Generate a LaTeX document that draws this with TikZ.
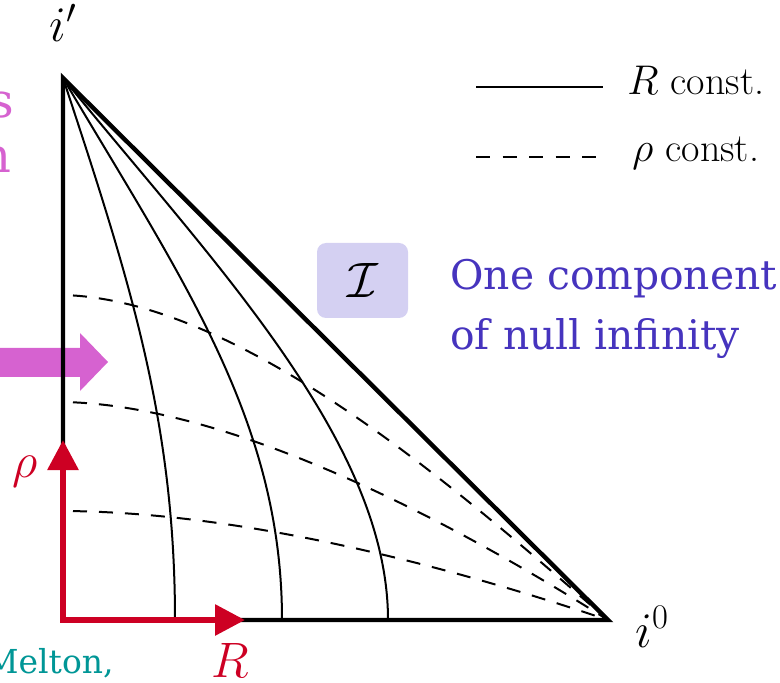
\documentclass[tikz,border=0pt]{standalone}
\usepackage{amsmath,amssymb}
\usepackage{fontspec}
\newfontfamily\slidefont{DejaVu Serif}
\usetikzlibrary{arrows.meta, positioning}
\definecolor{axisred}{RGB}{205,0,35}
\definecolor{pushpink}{RGB}{214,98,208}
\definecolor{scriblue}{RGB}{70,52,190}
\definecolor{scrifill}{RGB}{212,208,242}
\definecolor{citeteal}{RGB}{0,150,150}

\begin{document}
\begin{tikzpicture}[
        x=0.5pt, y=-0.5pt,
        edge/.style={line width=2.2pt, line join=miter},
        rline/.style={line width=1pt},
        rholine/.style={line width=1pt, dash pattern=on 7pt off 6pt, dash phase=8pt},
        axis/.style={line width=3pt, draw=axisred, line join=miter, {Triangle[length=15pt,width=15pt]}-{Triangle[length=15pt,width=15pt]}},
        push/.style={fill=pushpink},
        lbl/.style={inner sep=0pt, font=\fontsize{23}{28}\selectfont},
        redlbl/.style={lbl, text=axisred},
        legend/.style={inner sep=0pt, anchor=base west, font=\fontsize{20}{24}\selectfont},
        scribox/.style={rectangle, rounded corners=4.5pt, fill=scrifill, minimum width=45.5pt, minimum height=37.5pt, font=\fontsize{25}{30}\selectfont},
        scritext/.style={inner sep=0pt, align=left, text=scriblue, font=\slidefont\fontsize{20.4}{30}\selectfont},
        pushtext/.style={inner sep=0pt, anchor=base east, text=pushpink, font=\slidefont\fontsize{24}{28}\selectfont},
        cite/.style={inner sep=0pt, anchor=base east, text=citeteal, font=\slidefont\fontsize{16.5}{20}\selectfont}
    ]
    \useasboundingbox (0,0) rectangle (780,683);

    \coordinate (ip) at (63,78);
    \coordinate (orig) at (63,620);
    \coordinate (izero) at (608,620);
    \coordinate (r1) at (175,620);
    \coordinate (r2) at (282,620);
    \coordinate (r3) at (388,620);
    \coordinate (p1) at (63,295);
    \coordinate (p2) at (63,402);
    \coordinate (p3) at (63,511);
    \coordinate (rhotip) at (63,440);
    \coordinate (Rtip) at (245,620);

    \fill[push] (-20,348) -- (80,348) -- (80,333) -- (108,362) -- (80,391) -- (80,377) -- (-20,377) -- cycle;

    \draw[rline] (ip) .. controls (129,278) and (175,420) .. (r1);
    \draw[rline] (ip) .. controls (181,278) and (282,420) .. (r2);
    \draw[rline] (ip) .. controls (209,258) and (388,440) .. (r3);
    \draw[rholine] (p1) .. controls (250,300) and (480,510) .. (izero);
    \draw[rholine] (p2) .. controls (230,405) and (450,520) .. (izero);
    \draw[rholine] (p3) .. controls (250,512) and (460,570) .. (izero);

    \draw[edge] (orig) -- (izero) -- (ip) -- cycle;
    \draw[axis] (rhotip) -- (orig) -- (Rtip);

    \node[lbl, above=18pt of ip] (iplbl) {$i'$};
    \node[lbl, anchor=base west] (izerolbl) at (635,647) {$i^0$};
    \node[redlbl] (rholbl) at (25,472) {$\rho$};
    \node[redlbl, anchor=base] (Rlbl) at (230,677) {$R$};

    \node[scribox] (scri) at (362.5,280.5) {$\mathcal{I}$};
    \node[scritext, anchor=north west] (scrinote) at (450,259) {One component\\of null infinity};

    \coordinate (solidA) at (476,87);
    \coordinate (solidB) at (603,87);
    \draw[rline] (solidA) -- (solidB);
    \node[legend] (solidkey) at (627,95) {$R$ const.};
    \coordinate (dashA) at (476,157);
    \coordinate (dashB) at (597,157);
    \draw[rline, dash pattern=on 7pt off 6.25pt] (dashA) -- (dashB);
    \node[legend] (dashkey) at (632,162) {$\rho$ const.};

    \node[pushtext] (pushs) at (15,118) {s};
    \node[pushtext] (pushn) at (12,173) {n};
    \node[cite] (melton) at (114,673) {Melton,};
\end{tikzpicture}
\end{document}
